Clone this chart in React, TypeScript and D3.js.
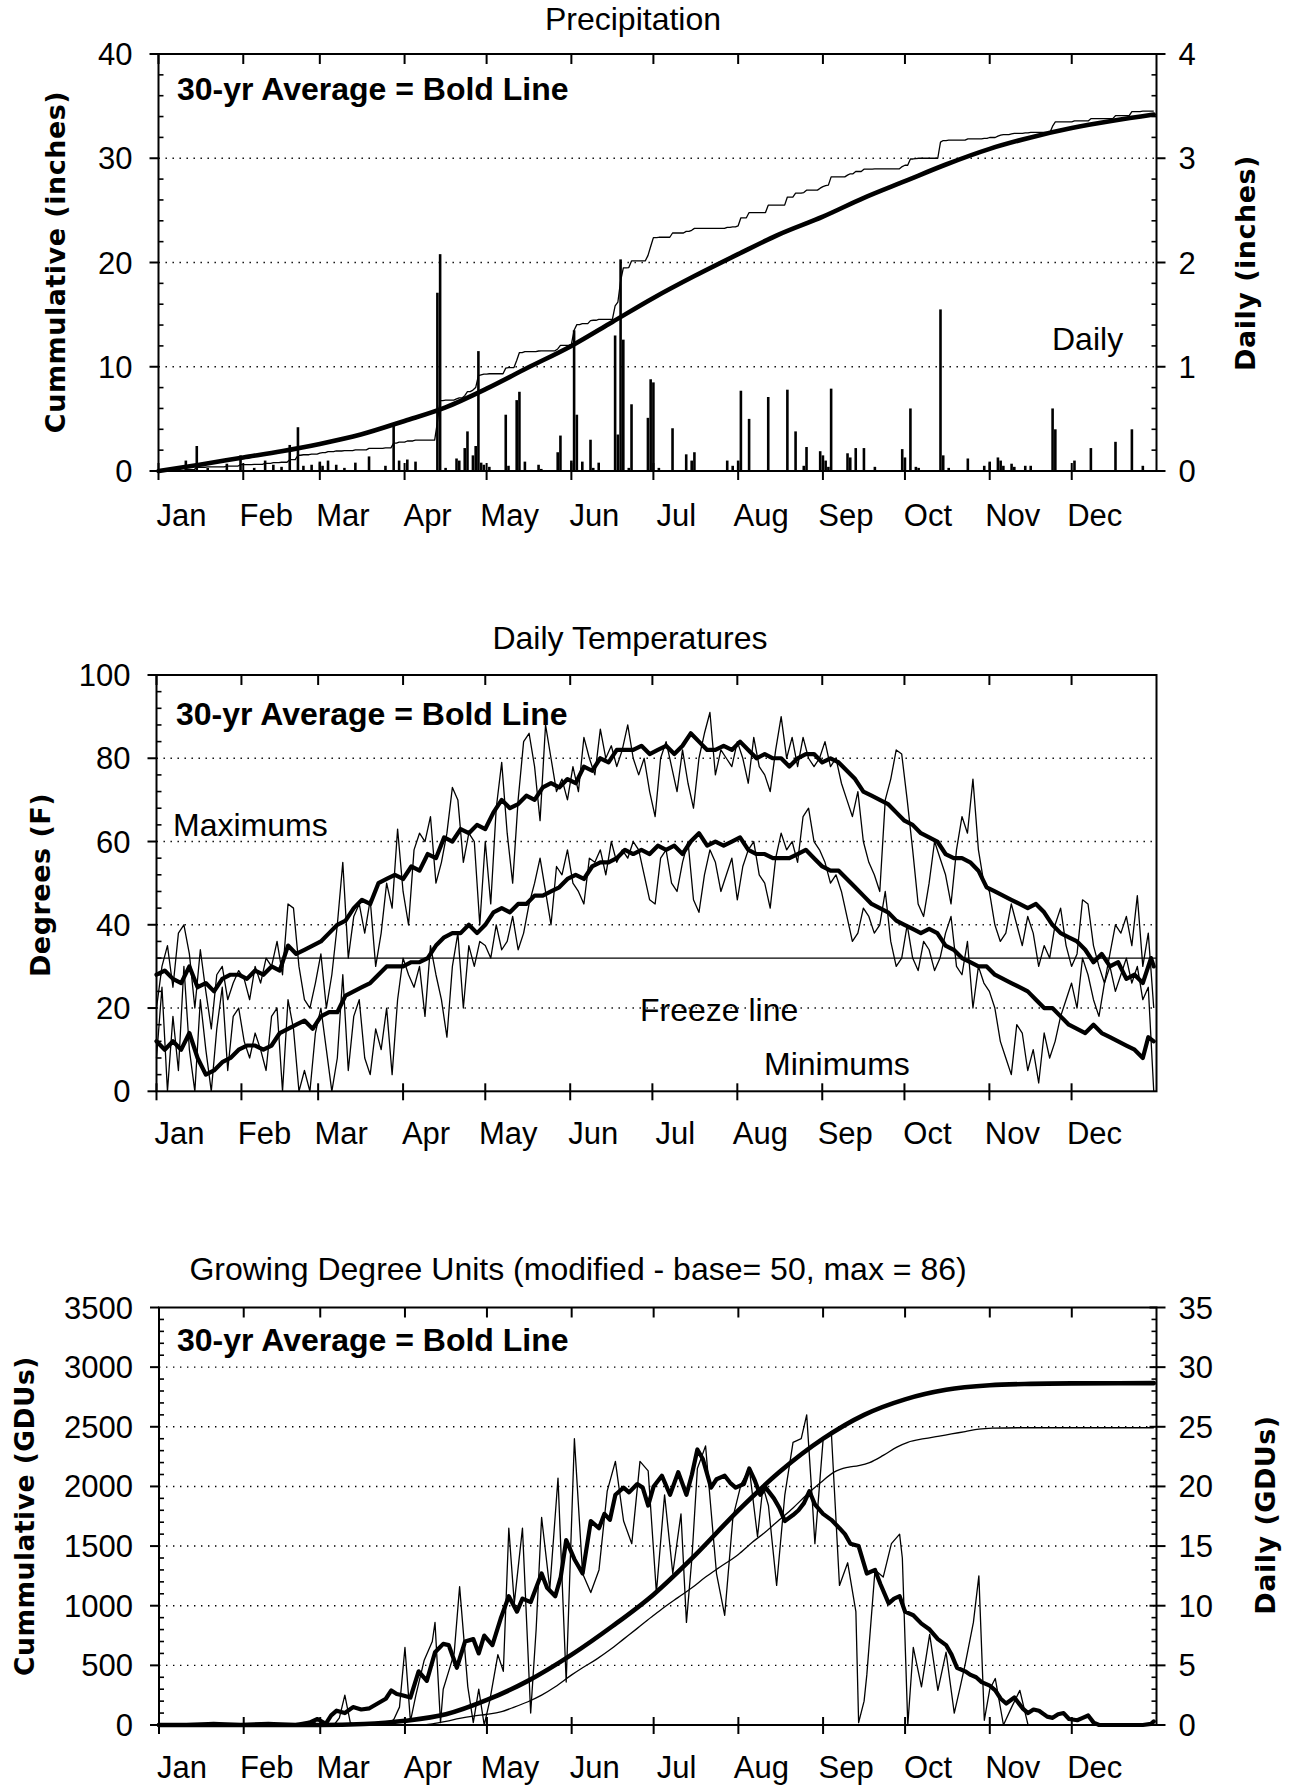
import React from 'react';
import * as d3 from 'd3';

type Pt = [number, number];

const W = 1289;
const H = 1786;
const FONT = '"Liberation Sans", Arial, Helvetica, sans-serif';
const WIDE_BOLD = '"DejaVu Sans", Verdana, sans-serif';
const FS_TICK = 31;
const FS_TITLE = 32;

const MONTHS = ['Jan', 'Feb', 'Mar', 'Apr', 'May', 'Jun', 'Jul', 'Aug', 'Sep', 'Oct', 'Nov', 'Dec'];
const MONTH_START_DAY = [0, 31, 59, 90, 120, 151, 181, 212, 243, 273, 304, 334];

// ---------- Precipitation ----------
const PRECIP_LEFT_TICKS = [0, 10, 20, 30, 40];
const PRECIP_RIGHT_TICKS = [0, 1, 2, 3, 4];
// daily precipitation events [day of year, inches]
const PRECIP_DAILY: Pt[] = [
  [5, 0.02], [10, 0.1], [14, 0.24], [18, 0.03], [25, 0.07], [30, 0.15], [35, 0.03], [39, 0.1], [42, 0.06], [45, 0.04],
  [48, 0.25], [51, 0.42], [53, 0.05], [56, 0.06], [59, 0.09], [60, 0.05], [62, 0.1], [65, 0.06], [68, 0.03], [72, 0.08],
  [77, 0.14], [83, 0.05], [86, 0.45], [88, 0.1], [91, 0.11], [94, 0.09], [102, 1.71], [103, 2.08], [105, 0.03],
  [109, 0.12], [110, 0.1], [112, 0.22], [113, 0.38], [115, 0.15], [116, 0.24], [117, 1.15], [118, 0.08], [119, 0.06],
  [121, 0.04], [127, 0.54], [128, 0.05], [131, 0.68], [132, 0.76], [134, 0.09], [139, 0.06], [140, 0.02], [146, 0.18],
  [147, 0.34], [151, 0.1], [152, 1.35], [153, 0.54], [155, 0.09], [158, 0.3], [159, 0.03], [161, 0.08], [167, 1.3],
  [168, 0.35], [169, 2.03], [170, 1.26], [172, 0.03], [173, 0.64], [179, 0.51], [180, 0.88], [181, 0.85], [183, 0.03],
  [188, 0.41], [193, 0.16], [195, 0.1], [196, 0.18], [208, 0.1], [210, 0.05], [212, 0.1], [213, 0.77], [216, 0.5],
  [223, 0.71], [230, 0.78], [233, 0.38], [236, 0.05], [237, 0.23], [242, 0.19], [243, 0.15], [244, 0.1], [245, 0.04],
  [246, 0.79], [252, 0.17], [253, 0.13], [255, 0.22], [258, 0.22], [262, 0.04], [272, 0.21], [273, 0.13], [275, 0.6],
  [277, 0.04], [278, 0.03], [286, 1.55], [287, 0.15], [289, 0.03], [296, 0.12], [302, 0.05], [304, 0.09], [307, 0.13],
  [308, 0.1], [309, 0.05], [312, 0.07], [313, 0.04], [317, 0.05], [319, 0.05], [327, 0.6], [328, 0.4], [335, 0.1],
  [341, 0.22], [350, 0.28], [356, 0.4], [360, 0.05],
];
// 30-yr average cumulative precipitation [day, inches]
const PRECIP_AVG_CUM: Pt[] = [
  [0, 0], [15, 0.6], [31, 1.3], [45, 1.9], [59, 2.6], [74, 3.5], [90, 4.8], [105, 6.1], [120, 7.9], [135, 9.9],
  [151, 12.0], [166, 14.3], [181, 16.6], [196, 18.7], [212, 20.8], [227, 22.7], [243, 24.4], [258, 26.2],
  [273, 27.8], [288, 29.4], [304, 30.9], [319, 32.0], [334, 32.9], [349, 33.6], [364, 34.2],
];

// ---------- Temperatures ----------
const TEMP_TICKS = [0, 20, 40, 60, 80, 100];
const FREEZE_F = 32;
const TMAX_AVG: Pt[] = [
  [0, 28], [3, 29], [6, 27], [9, 26], [12, 30], [15, 25], [18, 26], [21, 24], [24, 27], [27, 28], [30, 28], [33, 27],
  [36, 29], [39, 28], [42, 30], [45, 29], [48, 35], [51, 33], [54, 34], [57, 35], [60, 36], [63, 38], [66, 40], [69, 41],
  [72, 44], [75, 46], [78, 45], [81, 50], [84, 51], [87, 52], [90, 51], [93, 54], [96, 53], [99, 57], [102, 56], [105, 61],
  [108, 60], [111, 63], [114, 62], [117, 64], [120, 63], [123, 67], [126, 70], [129, 68], [132, 69], [135, 71], [138, 70],
  [141, 73], [144, 74], [147, 73], [150, 75], [153, 74], [156, 78], [159, 77], [162, 80], [165, 79], [168, 82], [171, 82],
  [174, 82], [177, 83], [180, 81], [183, 82], [186, 83], [189, 81], [192, 83], [195, 86], [198, 84], [201, 82], [204, 82],
  [207, 83], [210, 82], [213, 84], [216, 82], [219, 80], [222, 81], [225, 80], [228, 80], [231, 78], [234, 80], [237, 81],
  [240, 81], [243, 79], [246, 80], [249, 79], [252, 77], [255, 75], [258, 72], [261, 71], [264, 70], [267, 69], [270, 67],
  [273, 65], [276, 64], [279, 62], [282, 61], [285, 60], [288, 57], [291, 56], [294, 56], [297, 55], [300, 53], [303, 49],
  [306, 48], [309, 47], [312, 46], [315, 45], [318, 44], [321, 45], [324, 43], [327, 40], [330, 38], [333, 37], [336, 36],
  [339, 34], [342, 31], [345, 33], [348, 30], [351, 31], [354, 27], [357, 28], [360, 26], [363, 32], [364, 30],
];
const TMIN_AVG: Pt[] = [
  [0, 12], [3, 10], [6, 12], [9, 10], [12, 14], [15, 8], [18, 4], [21, 5], [24, 7], [27, 8], [30, 10], [33, 11], [36, 11],
  [39, 10], [42, 11], [45, 14], [48, 15], [51, 16], [54, 17], [57, 15], [60, 18], [63, 19], [66, 19], [69, 23], [72, 24],
  [75, 25], [78, 26], [81, 28], [84, 30], [87, 30], [90, 30], [93, 31], [96, 31], [99, 32], [102, 35], [105, 37], [108, 38],
  [111, 38], [114, 40], [117, 38], [120, 40], [123, 43], [126, 44], [129, 43], [132, 45], [135, 45], [138, 47], [141, 47],
  [144, 48], [147, 49], [150, 51], [153, 52], [156, 51], [159, 54], [162, 55], [165, 55], [168, 56], [171, 58], [174, 57],
  [177, 58], [180, 57], [183, 59], [186, 58], [189, 59], [192, 57], [195, 60], [198, 62], [201, 59], [204, 60], [207, 59],
  [210, 60], [213, 61], [216, 58], [219, 57], [222, 57], [225, 56], [228, 56], [231, 56], [234, 57], [237, 58], [240, 56],
  [243, 54], [246, 53], [249, 53], [252, 51], [255, 49], [258, 47], [261, 45], [264, 44], [267, 43], [270, 41], [273, 40],
  [276, 39], [279, 38], [282, 39], [285, 38], [288, 35], [291, 34], [294, 32], [297, 31], [300, 30], [303, 30], [306, 28],
  [309, 27], [312, 26], [315, 25], [318, 24], [321, 22], [324, 20], [327, 20], [330, 18], [333, 16], [336, 15], [339, 14],
  [342, 16], [345, 14], [348, 13], [351, 12], [354, 11], [357, 10], [360, 8], [362, 13], [364, 12],
];
const TMAX_ACTUAL: Pt[] = [
  [0, 20], [2, 30], [4, 35], [6, 25], [8, 38], [10, 40], [12, 33], [14, 20], [16, 34], [18, 24], [20, 15], [22, 28],
  [24, 30], [26, 22], [28, 26], [30, 29], [32, 27], [34, 22], [36, 30], [38, 26], [40, 32], [42, 30], [44, 36], [46, 28],
  [48, 45], [50, 44], [52, 30], [54, 22], [56, 20], [58, 26], [60, 33], [62, 20], [64, 28], [66, 40], [68, 55], [70, 32],
  [72, 42], [74, 45], [76, 38], [78, 46], [80, 30], [82, 38], [84, 50], [86, 44], [88, 63], [90, 48], [92, 40], [94, 58],
  [96, 62], [98, 60], [100, 66], [102, 50], [104, 55], [106, 62], [108, 73], [110, 70], [112, 55], [114, 62], [116, 60],
  [118, 40], [120, 60], [122, 45], [124, 68], [126, 79], [128, 62], [130, 50], [132, 70], [134, 84], [136, 86], [138, 78],
  [140, 65], [142, 88], [144, 80], [146, 72], [148, 75], [150, 70], [152, 78], [154, 72], [156, 85], [158, 80], [160, 76],
  [162, 87], [164, 80], [166, 83], [168, 78], [170, 82], [172, 88], [174, 80], [176, 76], [178, 80], [180, 72], [182, 66],
  [184, 80], [186, 84], [188, 78], [190, 72], [192, 82], [194, 74], [196, 68], [198, 80], [200, 86], [202, 91], [204, 76],
  [206, 82], [208, 80], [210, 78], [212, 84], [214, 80], [216, 74], [218, 85], [220, 78], [222, 76], [224, 72], [226, 82],
  [228, 90], [230, 80], [232, 85], [234, 78], [236, 85], [238, 80], [240, 78], [242, 80], [244, 84], [246, 78], [248, 80],
  [250, 74], [252, 70], [254, 66], [256, 72], [258, 60], [260, 55], [262, 52], [264, 48], [266, 70], [268, 75], [270, 82],
  [272, 81], [274, 70], [276, 58], [278, 45], [280, 42], [282, 50], [284, 60], [286, 56], [288, 52], [290, 45], [292, 58],
  [294, 66], [296, 62], [298, 75], [300, 58], [302, 50], [304, 48], [306, 40], [308, 36], [310, 38], [312, 45], [314, 40],
  [316, 35], [318, 42], [320, 38], [322, 30], [324, 35], [326, 32], [328, 40], [330, 44], [332, 35], [334, 30], [336, 33],
  [338, 46], [340, 45], [342, 35], [344, 30], [346, 26], [348, 33], [350, 40], [352, 38], [354, 42], [356, 35], [358, 47],
  [360, 30], [362, 38], [364, 20],
];
const TMIN_ACTUAL: Pt[] = [
  [0, 8], [2, 25], [4, 0], [6, 18], [8, 5], [10, 30], [12, 10], [14, 0], [16, 22], [18, 10], [20, 0], [22, 15], [24, 25],
  [26, 5], [28, 18], [30, 20], [32, 12], [34, 8], [36, 14], [38, 10], [40, 5], [42, 18], [44, 20], [46, 0], [48, 22],
  [50, 15], [52, 0], [54, 5], [56, 0], [58, 14], [60, 20], [62, 10], [64, 0], [66, 8], [68, 28], [70, 5], [72, 18],
  [74, 22], [76, 8], [78, 4], [80, 15], [82, 10], [84, 20], [86, 4], [88, 22], [90, 32], [92, 28], [94, 25], [96, 30],
  [98, 18], [100, 35], [102, 28], [104, 22], [106, 13], [108, 30], [110, 38], [112, 20], [114, 35], [116, 30], [118, 36],
  [120, 35], [122, 32], [124, 40], [126, 34], [128, 36], [130, 42], [132, 34], [134, 38], [136, 45], [138, 50], [140, 56],
  [142, 48], [144, 40], [146, 54], [148, 52], [150, 58], [152, 50], [154, 48], [156, 45], [158, 56], [160, 55], [162, 58],
  [164, 52], [166, 60], [168, 55], [170, 58], [172, 56], [174, 60], [176, 58], [178, 52], [180, 46], [182, 45], [184, 56],
  [186, 58], [188, 50], [190, 48], [192, 55], [194, 60], [196, 46], [198, 43], [200, 52], [202, 58], [204, 55], [206, 48],
  [208, 52], [210, 56], [212, 46], [214, 54], [216, 58], [218, 60], [220, 52], [222, 50], [224, 44], [226, 56], [228, 62],
  [230, 58], [232, 60], [234, 55], [236, 66], [238, 68], [240, 60], [242, 58], [244, 55], [246, 50], [248, 52], [250, 48],
  [252, 42], [254, 36], [256, 38], [258, 44], [260, 42], [262, 38], [264, 40], [266, 48], [268, 36], [270, 30], [272, 32],
  [274, 40], [276, 32], [278, 29], [280, 36], [282, 34], [284, 29], [286, 32], [288, 38], [290, 42], [292, 30], [294, 28],
  [296, 36], [298, 20], [300, 30], [302, 26], [304, 24], [306, 20], [308, 12], [310, 8], [312, 4], [314, 16], [316, 14],
  [318, 5], [320, 10], [322, 2], [324, 14], [326, 8], [328, 12], [330, 18], [332, 22], [334, 26], [336, 20], [338, 32],
  [340, 28], [342, 22], [344, 18], [346, 26], [348, 30], [350, 24], [352, 28], [354, 32], [356, 26], [358, 30], [360, 22],
  [362, 25], [364, 0],
];

// ---------- Growing degree units ----------
const GDU_LEFT_TICKS = [0, 500, 1000, 1500, 2000, 2500, 3000, 3500];
const GDU_RIGHT_TICKS = [0, 5, 10, 15, 20, 25, 30, 35];
const GDU_DAILY_AVG: Pt[] = [
  [0, 0], [10, 0], [20, 0.1], [30, 0], [40, 0.1], [50, 0], [55, 0.2], [58, 0.5], [61, 0.1], [63, 0.8], [65, 1.2], [68, 1],
  [71, 1.5], [74, 1.3], [77, 1.4], [80, 1.8], [83, 2.2], [85, 2.9], [87, 2.6], [89, 2.5], [92, 2.3], [95, 4.5], [98, 3.7],
  [101, 6.1], [104, 6.8], [106, 6.7], [109, 4.8], [112, 7], [115, 7.2], [117, 6], [119, 7.5], [122, 6.7], [125, 8.9],
  [128, 10.8], [131, 9.5], [133, 10.6], [136, 10.3], [138, 11.5], [140, 12.7], [142, 11.5], [145, 10.8], [147, 12.4],
  [149, 15.5], [152, 13.9], [155, 12.7], [158, 17.1], [161, 16.5], [163, 17.7], [165, 17.2], [167, 19.3], [170, 19.9],
  [172, 19.5], [175, 20.2], [177, 19.9], [179, 18.4], [181, 20], [184, 20.9], [187, 19.3], [190, 21.2], [193, 19.3],
  [195, 21], [197, 23.1], [199, 22.3], [202, 19.9], [204, 20.6], [207, 20.9], [209, 20.3], [211, 19.9], [214, 20.2],
  [216, 21.5], [218, 20.5], [220, 19.3], [222, 19.9], [225, 19], [227, 18.2], [229, 17.1], [232, 17.6], [234, 18],
  [236, 18.6], [238, 19.6], [240, 18.5], [243, 17.7], [246, 17.2], [249, 16.5], [251, 16], [253, 15.2], [256, 15],
  [259, 12.7], [262, 13], [264, 11.8], [267, 10.2], [269, 10.6], [271, 10.8], [273, 9.5], [276, 9.2], [279, 8.5], [282, 8],
  [285, 7.2], [288, 6.7], [290, 5.9], [292, 4.8], [295, 4.5], [297, 4.2], [299, 4], [301, 3.6], [304, 3.3], [306, 2.9],
  [308, 2.2], [310, 1.8], [313, 2.3], [316, 1.4], [318, 1], [320, 1.3], [322, 1.2], [325, 0.7], [327, 0.6], [329, 0.9],
  [331, 1], [333, 0.5], [336, 0.4], [338, 0.6], [340, 0.8], [342, 0.2], [344, 0], [350, 0], [360, 0], [363, 0.1], [364, 0.3],
];
const GDU_DAILY_ACTUAL: Pt[] = [
  [0, 0], [40, 0], [41, 0.2], [42, 0], [56, 0], [57, 0.2], [58, 0], [64, 0], [66, 0.6], [68, 2.5], [70, 0.2], [72, 0],
  [84, 0], [86, 0.5], [88, 1.5], [90, 6.5], [92, 0.3], [94, 2.5], [97, 5.4], [100, 7], [101, 8.6], [103, 0.2], [104, 3],
  [106, 4.5], [108, 6], [110, 11.6], [113, 3.2], [115, 0.2], [117, 3], [119, 0], [121, 2], [124, 5.9], [126, 4.5],
  [128, 16.5], [130, 10.2], [133, 16.5], [136, 1], [138, 8], [140, 17.4], [143, 11.4], [146, 20.7], [149, 3.6], [152, 24],
  [155, 12.7], [158, 11.1], [161, 13], [164, 19.6], [167, 22.1], [170, 17.1], [173, 15.2], [176, 22.1], [179, 21.3],
  [182, 11.1], [185, 19.3], [188, 12.7], [191, 17.7], [193, 8.6], [195, 14], [197, 21.5], [200, 23.4], [202, 18],
  [204, 12.7], [207, 9.2], [210, 17.4], [213, 20.2], [216, 21.5], [219, 15.8], [221, 20], [223, 18.4], [226, 11.7],
  [229, 19.3], [232, 23.7], [235, 24], [237, 26], [239, 19], [240, 15.2], [243, 23.9], [246, 24.6], [249, 11.7],
  [252, 13.6], [255, 9.5], [256, 0.2], [258, 2], [259, 4.2], [262, 13], [265, 12.4], [268, 15.2], [271, 16], [272, 14],
  [274, 0], [276, 6.5], [279, 3.2], [282, 7.6], [285, 2.9], [288, 6.1], [291, 1], [293, 3], [295, 5.1], [298, 8.6],
  [300, 12.5], [302, 0.4], [304, 3], [306, 3.9], [309, 0], [312, 1.5], [315, 2.9], [318, 0], [364, 0],
];
const GDU_CUM_AVG: Pt[] = [
  [0, 0], [59, 0], [75, 8], [90, 35], [105, 90], [120, 210], [135, 370], [151, 590], [166, 830], [181, 1095],
  [196, 1420], [212, 1800], [227, 2120], [243, 2400], [258, 2600], [273, 2730], [288, 2810], [304, 2848], [319, 2860],
  [334, 2864], [364, 2866],
];
const GDU_CUM_ACTUAL: Pt[] = [
  [0, 0], [95, 0], [100, 10], [105, 30], [110, 55], [115, 75], [120, 90], [125, 110], [130, 150], [135, 195], [140, 250],
  [145, 320], [151, 420], [155, 480], [160, 550], [165, 630], [170, 720], [175, 810], [181, 920], [185, 990], [190, 1070],
  [195, 1150], [200, 1240], [205, 1320], [212, 1430], [217, 1530], [222, 1620], [227, 1720], [232, 1820], [237, 1930],
  [242, 2030], [247, 2120], [252, 2160], [256, 2175], [260, 2200], [265, 2260], [270, 2330], [274, 2370], [280, 2400],
  [285, 2420], [290, 2440], [295, 2460], [300, 2480], [305, 2488], [315, 2492], [364, 2492],
];

type Box = { left: number; right: number; top: number; bottom: number };
const BOX1: Box = { left: 158.5, right: 1156.5, top: 54, bottom: 471 };
const BOX2: Box = { left: 156.5, right: 1156.5, top: 675, bottom: 1091.3 };
const BOX3: Box = { left: 159, right: 1156.5, top: 1307.5, bottom: 1725 };

const lineGen = (x: d3.ScaleLinear<number, number>, y: d3.ScaleLinear<number, number>) =>
  d3.line<Pt>().x((d) => x(d[0])).y((d) => y(d[1]));

function minorValues(domain: number[], step: number, majors: number[]) {
  const out: number[] = [];
  const n = Math.round((domain[1] - domain[0]) / step);
  for (let i = 0; i <= n; i++) {
    const v = domain[0] + i * step;
    if (!majors.some((m) => Math.abs(m - v) < step / 10)) out.push(v);
  }
  return out;
}

type FrameProps = {
  box: Box;
  x: d3.ScaleLinear<number, number>;
  yL: d3.ScaleLinear<number, number>;
  leftTicks: number[];
  leftMinor: number;
  yR?: d3.ScaleLinear<number, number>;
  rightTicks?: number[];
  rightMinor?: number;
  rightMajorInward?: number;
  monthBaseline: number;
};

function Grid({ box, yL, leftTicks }: { box: Box; yL: d3.ScaleLinear<number, number>; leftTicks: number[] }) {
  return (
    <g>
      {leftTicks.slice(1, -1).map((t) => (
        <line key={t} x1={box.left} x2={box.right} y1={yL(t)} y2={yL(t)} stroke="#000" strokeWidth={1.4} strokeDasharray="1.4 5.6" />
      ))}
    </g>
  );
}

function Frame(p: FrameProps) {
  const { box, x, yL, leftTicks, leftMinor, yR, rightTicks, rightMinor, rightMajorInward = 0, monthBaseline } = p;
  const lMinor = minorValues(yL.domain(), leftMinor, leftTicks);
  const rMinor = yR && rightTicks && rightMinor ? minorValues(yR.domain(), rightMinor, rightTicks) : [];
  const sw = 2;
  return (
    <g stroke="#000" strokeWidth={sw} fill="none">
      <rect x={box.left} y={box.top} width={box.right - box.left} height={box.bottom - box.top} />
      {leftTicks.map((t) => (
        <line key={'lm' + t} x1={box.left - 9} x2={box.left} y1={yL(t)} y2={yL(t)} />
      ))}
      {lMinor.map((t) => (
        <line key={'ln' + t} x1={box.left} x2={box.left + 5} y1={yL(t)} y2={yL(t)} strokeWidth={1.6} />
      ))}
      {yR && rightTicks
        ? rightTicks.map((t) => (
            <line key={'rm' + t} x1={box.right - rightMajorInward} x2={box.right + 9} y1={yR(t)} y2={yR(t)} />
          ))
        : null}
      {yR
        ? rMinor.map((t) => (
            <line key={'rn' + t} x1={box.right - 5} x2={box.right} y1={yR(t)} y2={yR(t)} strokeWidth={1.6} />
          ))
        : null}
      {MONTH_START_DAY.map((d) => (
        <g key={'mt' + d}>
          <line x1={x(d)} x2={x(d)} y1={box.top} y2={box.top + 10} />
          <line x1={x(d)} x2={x(d)} y1={box.bottom - 8} y2={box.bottom + 9} />
        </g>
      ))}
      <g stroke="none" fill="#000" fontFamily={FONT} fontSize={FS_TICK}>
        {leftTicks.map((t) => (
          <text key={'ll' + t} x={box.left - 26} y={yL(t) + 11} textAnchor="end">
            {t}
          </text>
        ))}
        {yR && rightTicks
          ? rightTicks.map((t) => (
              <text key={'rl' + t} x={box.right + 22} y={yR(t) + 11} textAnchor="start">
                {t}
              </text>
            ))
          : null}
        {MONTHS.map((m, i) => (
          <text key={m} x={x(MONTH_START_DAY[i]) + 23} y={monthBaseline} textAnchor="middle">
            {m}
          </text>
        ))}
      </g>
    </g>
  );
}

function RotLabel({ x, y, text, size = 27 }: { x: number; y: number; text: string; size?: number }) {
  return (
    <text
      transform={`translate(${x},${y}) rotate(-90)`}
      textAnchor="middle"
      fontFamily={WIDE_BOLD}
      fontWeight="bold"
      fontSize={size}
      letterSpacing={0.5}
      fill="#000"
    >
      {text}
    </text>
  );
}

function LegendNote({ x, y }: { x: number; y: number }) {
  return (
    <text x={x} y={y} fontFamily={FONT} fontWeight="bold" fontSize={FS_TITLE} fill="#000">
      30-yr Average = Bold Line
    </text>
  );
}

export default function App() {
  // ----- panel 1 scales -----
  const x1 = d3.scaleLinear().domain([0, 365]).range([BOX1.left, BOX1.right]);
  const y1 = d3.scaleLinear().domain([0, 40]).range([BOX1.bottom, BOX1.top]);
  const y1r = d3.scaleLinear().domain([0, 4]).range([BOX1.bottom, BOX1.top]);
  const dailyByDay = new Array(365).fill(0);
  PRECIP_DAILY.forEach(([d, v]) => (dailyByDay[d] += v));
  const cum = d3.cumsum(dailyByDay);
  const precipCumActual: Pt[] = Array.from(cum, (c, i) => [i, c] as Pt);

  // ----- panel 2 scales -----
  const x2 = d3.scaleLinear().domain([0, 365]).range([BOX2.left, BOX2.right]);
  const y2 = d3.scaleLinear().domain([0, 100]).range([BOX2.bottom, BOX2.top]);

  // ----- panel 3 scales -----
  const x3 = d3.scaleLinear().domain([0, 365]).range([BOX3.left, BOX3.right]);
  const y3 = d3.scaleLinear().domain([0, 3500]).range([BOX3.bottom, BOX3.top]);
  const y3r = d3.scaleLinear().domain([0, 35]).range([BOX3.bottom, BOX3.top]);

  const thin = { fill: 'none', stroke: '#000', strokeWidth: 1.3, strokeLinejoin: 'round' as const };
  const bold = { fill: 'none', stroke: '#000', strokeWidth: 4.6, strokeLinejoin: 'round' as const, strokeLinecap: 'round' as const };

  return (
    <svg
      width={W}
      height={H}
      viewBox={`0 0 ${W} ${H}`}
      style={{ position: 'absolute', left: 0, top: 0, background: '#fff' }}
    >
      <rect x={0} y={0} width={W} height={H} fill="#fff" />

      {/* ================= Panel 1: Precipitation ================= */}
      <text x={633} y={30} textAnchor="middle" fontFamily={FONT} fontSize={FS_TITLE}>
        Precipitation
      </text>
      <Grid box={BOX1} yL={y1} leftTicks={PRECIP_LEFT_TICKS} />
      <g stroke="#000" strokeWidth={2.6}>
        {PRECIP_DAILY.map(([d, v]) => (
          <line key={d} x1={x1(d)} x2={x1(d)} y1={y1r(0)} y2={y1r(v)} />
        ))}
      </g>
      <path d={lineGen(x1, y1)(precipCumActual) || ''} {...thin} />
      <path d={lineGen(x1, y1).curve(d3.curveMonotoneX)(PRECIP_AVG_CUM) || ''} {...bold} />
      <Frame
        box={BOX1}
        x={x1}
        yL={y1}
        leftTicks={PRECIP_LEFT_TICKS}
        leftMinor={2}
        yR={y1r}
        rightTicks={PRECIP_RIGHT_TICKS}
        rightMinor={0.2}
        monthBaseline={526}
      />
      <LegendNote x={177} y={100} />
      <text x={1052} y={350} fontFamily={FONT} fontSize={FS_TITLE}>
        Daily
      </text>
      <RotLabel x={65} y={262} text="Cummulative (inches)" />
      <RotLabel x={1255} y={263} text="Daily (inches)" />

      {/* ================= Panel 2: Temperatures ================= */}
      <text x={630} y={649} textAnchor="middle" fontFamily={FONT} fontSize={FS_TITLE}>
        Daily Temperatures
      </text>
      <Grid box={BOX2} yL={y2} leftTicks={TEMP_TICKS} />
      <line x1={BOX2.left} x2={BOX2.right} y1={y2(FREEZE_F)} y2={y2(FREEZE_F)} stroke="#000" strokeWidth={1.4} />
      <path d={lineGen(x2, y2)(TMAX_ACTUAL) || ''} {...thin} />
      <path d={lineGen(x2, y2)(TMIN_ACTUAL) || ''} {...thin} />
      <path d={lineGen(x2, y2)(TMAX_AVG) || ''} {...bold} strokeWidth={4.2} />
      <path d={lineGen(x2, y2)(TMIN_AVG) || ''} {...bold} strokeWidth={4.2} />
      <Frame box={BOX2} x={x2} yL={y2} leftTicks={TEMP_TICKS} leftMinor={4} monthBaseline={1144} />
      <LegendNote x={176} y={725} />
      <text x={173} y={836} fontFamily={FONT} fontSize={FS_TITLE}>
        Maximums
      </text>
      <text x={640} y={1021} fontFamily={FONT} fontSize={FS_TITLE}>
        Freeze line
      </text>
      <text x={764} y={1075} fontFamily={FONT} fontSize={FS_TITLE}>
        Minimums
      </text>
      <RotLabel x={50} y={885} text="Degrees (F)" />

      {/* ================= Panel 3: GDUs ================= */}
      <text x={578} y={1280} textAnchor="middle" fontFamily={FONT} fontSize={FS_TITLE}>
        Growing Degree Units (modified - base= 50, max = 86)
      </text>
      <Grid box={BOX3} yL={y3} leftTicks={GDU_LEFT_TICKS} />
      <path d={lineGen(x3, y3r)(GDU_DAILY_ACTUAL) || ''} {...thin} />
      <path d={lineGen(x3, y3).curve(d3.curveMonotoneX)(GDU_CUM_ACTUAL) || ''} {...thin} />
      <path d={lineGen(x3, y3r)(GDU_DAILY_AVG) || ''} {...bold} strokeWidth={4.2} />
      <path d={lineGen(x3, y3).curve(d3.curveMonotoneX)(GDU_CUM_AVG) || ''} {...bold} />
      <Frame
        box={BOX3}
        x={x3}
        yL={y3}
        leftTicks={GDU_LEFT_TICKS}
        leftMinor={100}
        yR={y3r}
        rightTicks={GDU_RIGHT_TICKS}
        rightMinor={1}
        rightMajorInward={7}
        monthBaseline={1778}
      />
      <LegendNote x={177} y={1351} />
      <RotLabel x={34} y={1516} text="Cummulative (GDUs)" size={26.5} />
      <RotLabel x={1275} y={1515} text="Daily (GDUs)" />
    </svg>
  );
}
